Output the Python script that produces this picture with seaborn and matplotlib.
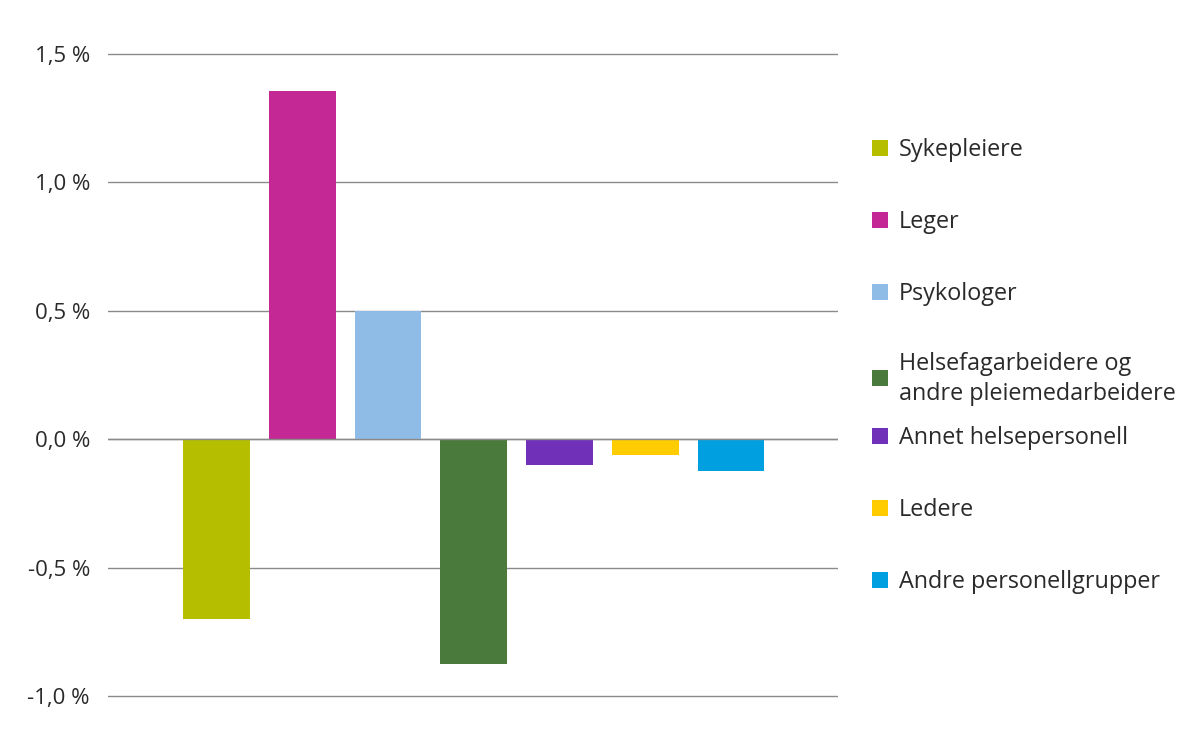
import matplotlib
matplotlib.use("Agg")
import matplotlib.pyplot as plt
import seaborn as sns
import pandas as pd
from matplotlib.patches import Rectangle
from matplotlib.ticker import FixedLocator, FuncFormatter

categories = ["Sykepleiere", "Leger", "Psykologer",
              "Helsefagarbeidere og\nandre pleiemedarbeidere",
              "Annet helsepersonell", "Ledere", "Andre personellgrupper"]
values = [-0.70, 1.355, 0.50, -0.875, -0.10, -0.06, -0.125]
colors = ["#b5bf00", "#c42895", "#8fbce6", "#4a7a3c", "#7030b8", "#ffcc00", "#00a0e0"]
yticks = [-1.0, -0.5, 0.0, 0.5, 1.0, 1.5]

sns.set_theme(style="white")
plt.rcParams['font.family'] = ['Open Sans', 'DejaVu Sans']
text_color = "#2a2a2a"

df = pd.DataFrame({"cat": categories, "val": values})

fig = plt.figure(figsize=(12, 7.4), dpi=100)
ax = fig.add_axes([108/1200, (740-708.8)/740, (838-108)/1200, (708.8-41.2)/740])

sns.barplot(data=df, x="cat", y="val", hue="cat", palette=colors, width=0.78,
            legend=False, ax=ax, saturation=1, zorder=2, linewidth=0)

ax.set_xlim(-1.265, 7.248)
ax.set_ylim(-1.05, 1.55)
ax.yaxis.set_major_locator(FixedLocator(yticks))
ax.yaxis.set_major_formatter(FuncFormatter(lambda v, p: f"{v:.1f} %".replace(".", ",")))
ax.set_xticks([])
ax.set_xlabel("")
ax.set_ylabel("")
for s in ax.spines.values():
    s.set_visible(False)
ax.set_axisbelow(True)
ax.grid(axis="y", color="#8a8a8a", linewidth=1.0)
ax.axhline(0, color="#8a8a8a", linewidth=1.0, zorder=3)
ax.tick_params(axis="y", length=0, pad=13, labelsize=16, labelcolor=text_color)

# legend drawn manually
slots = [148, 220, 292, 364, 436, 508, 580]
for i, (lab, col) in enumerate(zip(categories, colors)):
    yc = slots[i]
    if "\n" in lab:
        yc_sq = yc + 14
        yc_txt = yc + 15
    else:
        yc_sq = yc
        yc_txt = yc + 2
    fig.patches.append(Rectangle((872/1200, (740 - yc_sq - 8)/740), 16/1200, 16/740,
                                 transform=fig.transFigure, facecolor=col, edgecolor="none"))
    fig.text(899/1200, (740 - yc_txt)/740, lab, ha="left", va="center",
             fontsize=16.8, color=text_color, linespacing=1.28)

fig.savefig("out.png", dpi=100)
